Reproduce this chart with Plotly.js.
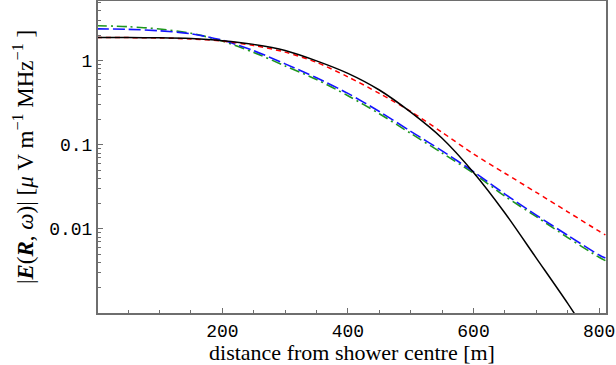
<!DOCTYPE html>
<html>
<head>
<meta charset="utf-8">
<script src="https://cdn.plot.ly/plotly-3.0.1.min.js"></script>
<style>
  html, body { margin: 0; padding: 0; background: #fff; }
  #chart { width: 616px; height: 365px; }
</style>
</head>
<body>
<div id="chart"></div>
<script>
// distance from shower centre [m]
var distance = [0, 50, 100, 150, 200, 250, 300, 350, 400, 450, 500, 550, 600, 650, 700, 750, 800, 810];

// field strength |E(R, w)| [uV m^-1 MHz^-1]
var fieldBlack = [1.89, 1.89, 1.88, 1.84, 1.74, 1.57, 1.33, 1.0, 0.71, 0.45, 0.245, 0.12, 0.047, 0.0155, 0.0045, 0.0013, 0.00035, 0.00027];
var fieldRed   = [1.89, 1.89, 1.87, 1.82, 1.72, 1.52, 1.27, 0.96, 0.645, 0.41, 0.25, 0.141, 0.078, 0.046, 0.0272, 0.016, 0.0094, 0.0085];
var fieldBlue  = [2.40, 2.37, 2.28, 2.10, 1.76, 1.32, 0.92, 0.63, 0.41, 0.25, 0.145, 0.085, 0.048, 0.026, 0.0146, 0.0084, 0.0049, 0.0045];
var fieldGreen = [2.62, 2.55, 2.39, 2.13, 1.72, 1.26, 0.87, 0.60, 0.385, 0.235, 0.137, 0.080, 0.046, 0.0245, 0.014, 0.0079, 0.0046, 0.0042];

var xTicks = [200, 400, 600, 800];
var yTicks = [0.01, 0.1, 1];
var yTickText = ['0.01', '0.1', '1'];

function curve(y, color, dash, width) {
  return {
    x: distance,
    y: y,
    mode: 'lines',
    line: { color: color, width: width, dash: dash, shape: 'spline', smoothing: 0.8 },
    hoverinfo: 'skip'
  };
}

var data = [
  curve(fieldGreen, 'rgb(30,150,30)', '10px,4px,2px,4px', 1.6),
  curve(fieldBlue, 'rgb(20,20,255)', '12px,4px', 1.6),
  curve(fieldRed, 'rgb(255,0,0)', '5px,4px', 1.5),
  curve(fieldBlack, 'rgb(0,0,0)', 'solid', 1.5)
];

var axisColor = 'rgb(110,110,110)';
var tickFont = { family: 'Liberation Mono, Courier New, monospace', size: 18, color: '#000' };
var serif = 'Liberation Serif, Times New Roman, serif';

var layout = {
  width: 616,
  height: 365,
  margin: { l: 98, r: 10, t: 1, b: 52 },
  paper_bgcolor: '#fff',
  plot_bgcolor: '#fff',
  showlegend: false,
  xaxis: {
    range: [2, 811],
    tickvals: xTicks,
    ticks: 'inside',
    ticklen: 5,
    tickwidth: 1,
    tickcolor: axisColor,
    tickfont: tickFont,
    ticklabeloverflow: 'allow',
    showgrid: false,
    zeroline: false,
    showline: true,
    linecolor: axisColor,
    linewidth: 2,
    mirror: true,
    minor: { dtick: 50, ticks: 'inside', ticklen: 3, tickcolor: axisColor, showgrid: false },
    title: { text: 'distance from shower centre [m]', font: { family: serif, size: 22, color: '#000' }, standoff: 5 }
  },
  yaxis: {
    type: 'log',
    range: [-3, 0.712],
    tickvals: yTicks,
    ticktext: yTickText,
    ticks: 'inside',
    ticklen: 5,
    tickwidth: 1,
    tickcolor: axisColor,
    tickfont: tickFont,
    showgrid: false,
    zeroline: false,
    showline: true,
    linecolor: axisColor,
    linewidth: 2,
    mirror: true,
    minor: { dtick: 'D1', ticks: 'inside', ticklen: 3, tickcolor: axisColor, showgrid: false },
    title: {
      text: '|<b><i>E</i></b>(<b><i>R</i></b>, <i>ω</i>)| [<i>μ</i> V m<sup>−1</sup> MHz<sup>−1</sup> ]',
      font: { family: serif, size: 23, color: '#000' },
      standoff: 9
    }
  }
};

Plotly.newPlot('chart', data, layout, { displayModeBar: false, staticPlot: true });
</script>
</body>
</html>
